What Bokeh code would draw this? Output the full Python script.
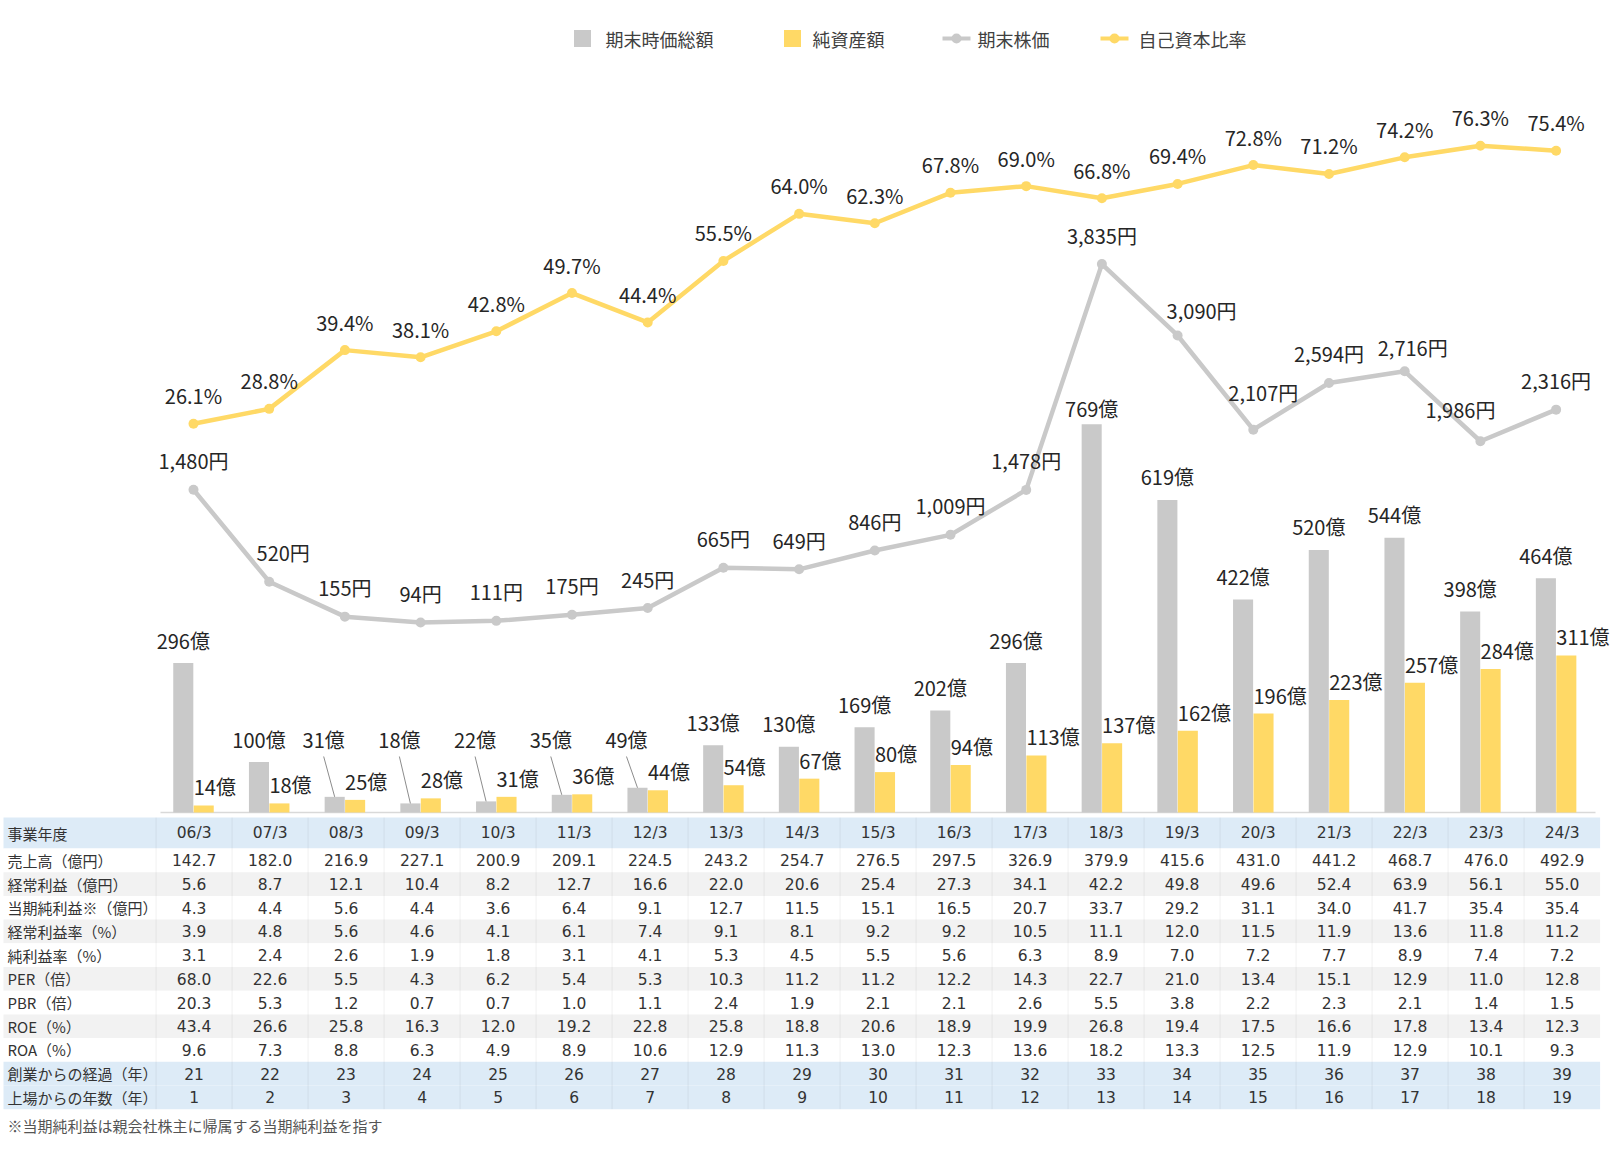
import numpy as np
from bokeh.plotting import figure
from bokeh.models import Range1d
from bokeh.core.properties import value
from bokeh.embed import file_html
from bokeh.resources import INLINE

# ---------------- data ----------------
years = ["06/3", "07/3", "08/3", "09/3", "10/3", "11/3", "12/3", "13/3", "14/3", "15/3",
         "16/3", "17/3", "18/3", "19/3", "20/3", "21/3", "22/3", "23/3", "24/3"]
market_cap = [296, 100, 31, 18, 22, 35, 49, 133, 130, 169, 202, 296, 769, 619, 422, 520, 544, 398, 464]
net_assets = [14, 18, 25, 28, 31, 36, 44, 54, 67, 80, 94, 113, 137, 162, 196, 223, 257, 284, 311]
share_price = [1480, 520, 155, 94, 111, 175, 245, 665, 649, 846, 1009, 1478, 3835, 3090, 2107, 2594,
               2716, 1986, 2316]
equity_ratio = [26.1, 28.8, 39.4, 38.1, 42.8, 49.7, 44.4, 55.5, 64.0, 62.3, 67.8, 69.0, 66.8, 69.4,
                72.8, 71.2, 74.2, 76.3, 75.4]

header_label = "事業年度"
row_labels = ["売上高（億円）", "経常利益（億円）", "当期純利益※（億円）", "経常利益率（%）", "純利益率（%）",
              "PER（倍）", "PBR（倍）", "ROE（%）", "ROA（%）", "創業からの経過（年）", "上場からの年数（年）"]
sales = [142.7, 182.0, 216.9, 227.1, 200.9, 209.1, 224.5, 243.2, 254.7, 276.5, 297.5, 326.9, 379.9,
         415.6, 431.0, 441.2, 468.7, 476.0, 492.9]
ordinary_profit = [5.6, 8.7, 12.1, 10.4, 8.2, 12.7, 16.6, 22.0, 20.6, 25.4, 27.3, 34.1, 42.2, 49.8,
                   49.6, 52.4, 63.9, 56.1, 55.0]
net_income = [4.3, 4.4, 5.6, 4.4, 3.6, 6.4, 9.1, 12.7, 11.5, 15.1, 16.5, 20.7, 33.7, 29.2, 31.1, 34.0,
              41.7, 35.4, 35.4]
ordinary_margin = [3.9, 4.8, 5.6, 4.6, 4.1, 6.1, 7.4, 9.1, 8.1, 9.2, 9.2, 10.5, 11.1, 12.0, 11.5, 11.9,
                   13.6, 11.8, 11.2]
net_margin = [3.1, 2.4, 2.6, 1.9, 1.8, 3.1, 4.1, 5.3, 4.5, 5.5, 5.6, 6.3, 8.9, 7.0, 7.2, 7.7, 8.9, 7.4, 7.2]
per = [68.0, 22.6, 5.5, 4.3, 6.2, 5.4, 5.3, 10.3, 11.2, 11.2, 12.2, 14.3, 22.7, 21.0, 13.4, 15.1, 12.9,
       11.0, 12.8]
pbr = [20.3, 5.3, 1.2, 0.7, 0.7, 1.0, 1.1, 2.4, 1.9, 2.1, 2.1, 2.6, 5.5, 3.8, 2.2, 2.3, 2.1, 1.4, 1.5]
roe = [43.4, 26.6, 25.8, 16.3, 12.0, 19.2, 22.8, 25.8, 18.8, 20.6, 18.9, 19.9, 26.8, 19.4, 17.5, 16.6,
       17.8, 13.4, 12.3]
roa = [9.6, 7.3, 8.8, 6.3, 4.9, 8.9, 10.6, 12.9, 11.3, 13.0, 12.3, 13.6, 18.2, 13.3, 12.5, 11.9, 12.9,
       10.1, 9.3]
years_since_founding = [21, 22, 23, 24, 25, 26, 27, 28, 29, 30, 31, 32, 33, 34, 35, 36, 37, 38, 39]
years_since_listing = [1, 2, 3, 4, 5, 6, 7, 8, 9, 10, 11, 12, 13, 14, 15, 16, 17, 18, 19]
footnote = "※当期純利益は親会社株主に帰属する当期純利益を指す"
legend_labels = ["期末時価総額", "純資産額", "期末株価", "自己資本比率"]

# ---------------- layout / style ----------------
W, H = 1615, 1160
COL0, COL = 193.6, 76.0            # table: x of first column centre, column pitch (px)
CH0, CHP = 193.0, 75.7             # chart: x of first category, category pitch (px)
BASE_Y, BAR_PX = 812.0, 0.505      # bar baseline (px from top), px per 億
PRICE_Y0, PRICE_PX = 631.0, 0.0958
RATIO_Y0, RATIO_PX = 567.9, 5.54
TOP, BOT = 0, H

GRAY = "#C9C9C9"
YELLOW = "#FFD966"
TXT = "#262626"
CH_FONT = value("Noto Sans CJK JP")
TB_FONT = value("DejaVu Sans, Noto Sans CJK JP")

DODGE, BW = 0.135, 0.265
LABEL_FLOOR = 100
price_dx = [0, 14, 0, 0, 0, 0, 0, 0, 0, 0, 0, 0, 0, 24, 10, 0, 8, -20, 0]
price_dy = [0, 0, 0, 0, 0, 0, 0, 0, 0, 0, 0, 0, 0, 4, -8, 0, 5, -3, 0]
cap_dy = [0] * 12 + [7] + [0] * 6


def rng(zero_px, px_per):
    return Range1d(-(BOT - zero_px) / px_per, (zero_px - TOP) / px_per)


p = figure(width=W, height=H, output_backend="svg", toolbar_location=None,
           x_range=Range1d(-COL0 / COL, (W - COL0) / COL),
           y_range=Range1d(BOT, TOP), min_border=0, outline_line_color=None,
           x_axis_location=None, y_axis_location=None)
p.grid.grid_line_color = None
p.extra_x_ranges = {"px": Range1d(0, W), "chart": Range1d(-CH0 / CHP, (W - CH0) / CHP)}
p.extra_y_ranges = {"bar": rng(BASE_Y, BAR_PX), "price": rng(PRICE_Y0, PRICE_PX),
                    "ratio": rng(RATIO_Y0, RATIO_PX)}

idx = np.arange(len(years))

# ---------------- table ----------------
HEAD_T, HEAD_B, ROW_H = 817.0, 848.0, 23.7
T_LEFT, T_RIGHT = 3.0, COL0 + COL * (len(years) - 0.5)
row_fill = ["#FFFFFF", "#F2F2F2"] * 4 + ["#FFFFFF", "#DDEBF7", "#DDEBF7"]
tops = [HEAD_T] + [HEAD_B + ROW_H * r for r in range(len(row_labels))]
bots = [HEAD_B] + [HEAD_B + ROW_H * (r + 1) for r in range(len(row_labels))]
p.quad(left=T_LEFT, right=T_RIGHT, top=tops, bottom=bots,
       fill_color=["#DDEBF7"] + row_fill, line_color=None, x_range_name="px")
p.segment(x0=idx - 0.5, x1=idx - 0.5, y0=HEAD_T, y1=bots[-1], line_color="#000000",
          line_alpha=0.06, line_width=1)

table_rows = [sales, ordinary_profit, net_income, ordinary_margin, net_margin, per, pbr, roe, roa,
              years_since_founding, years_since_listing]
centres = [(t + b) / 2 for t, b in zip(tops, bots)]
tx, ty, tt = [], [], []
for c, y in enumerate(years):
    tx.append(c); ty.append(centres[0]); tt.append(y)
for r, row in enumerate(table_rows):
    for c, v in enumerate(row):
        tx.append(c); ty.append(centres[r + 1])
        tt.append(f"{v:.1f}" if isinstance(v, float) else str(v))
p.text(x=tx, y=ty, text=tt, text_font=TB_FONT, text_font_size="15.5px", text_color="#333333",
       text_align="center", text_baseline="middle")
p.text(x=[7] * (len(row_labels) + 1), y=centres, text=[header_label] + row_labels,
       text_font=CH_FONT, text_font_size="15px", text_color="#333333", text_align="left",
       text_baseline="middle", x_range_name="px")
p.text(x=[7], y=[1125], text=[footnote], text_font=CH_FONT, text_font_size="15px",
       text_color="#555555", text_align="left", text_baseline="middle", x_range_name="px")

# ---------------- bars ----------------
p.segment(x0=[160], x1=[1595], y0=[BASE_Y], y1=[BASE_Y], line_color="#D9D9D9", line_width=1.5,
          x_range_name="px")
p.vbar(x=idx - DODGE, top=market_cap, bottom=0, width=BW, fill_color=GRAY, line_color=None,
       y_range_name="bar", x_range_name="chart")
p.vbar(x=idx + DODGE, top=net_assets, bottom=0, width=BW, fill_color=YELLOW, line_color=None,
       y_range_name="bar", x_range_name="chart")

# ---------------- lines ----------------
p.line(idx, share_price, line_color=GRAY, line_width=4.5, y_range_name="price", x_range_name="chart")
p.scatter(idx, share_price, size=10, fill_color=GRAY, line_color=None, y_range_name="price",
          x_range_name="chart")
p.line(idx, equity_ratio, line_color=YELLOW, line_width=4.5, y_range_name="ratio", x_range_name="chart")
p.scatter(idx, equity_ratio, size=10, fill_color=YELLOW, line_color=None, y_range_name="ratio",
          x_range_name="chart")

# ---------------- labels ----------------
p.text(x=idx, y=equity_ratio, text=[f"{v:.1f}%" for v in equity_ratio], y_offset=-28,
       text_font=CH_FONT, text_font_size="20px", text_color=TXT, text_align="center",
       text_baseline="middle", y_range_name="ratio", x_range_name="chart")
p.text(x=idx, y=share_price, text=[f"{v:,}円" for v in share_price],
       x_offset=price_dx, y_offset=[-29 + d for d in price_dy],
       text_font=CH_FONT, text_font_size="20px", text_color=TXT, text_align="center",
       text_baseline="middle", y_range_name="price", x_range_name="chart")

raised = [v < LABEL_FLOOR for v in market_cap]
cap_y = [max(v, LABEL_FLOOR) for v in market_cap]
cap_dx = [-11 if r else 0 for r in raised]
p.text(x=idx - DODGE, y=cap_y, text=[f"{v}億" for v in market_cap], x_offset=cap_dx,
       y_offset=[-23 + d for d in cap_dy], text_font=CH_FONT, text_font_size="20px",
       text_color=TXT, text_align="center", text_baseline="middle", y_range_name="bar",
       x_range_name="chart")
ri = [i for i, r in enumerate(raised) if r]
p.segment(x0=[i - DODGE - 11 / CHP for i in ri], y0=[LABEL_FLOOR + 5.5 / BAR_PX] * len(ri),
          x1=[i - DODGE for i in ri], y1=[market_cap[i] for i in ri], line_color="#8C8C8C",
          line_width=1, y_range_name="bar", x_range_name="chart")
p.text(x=idx + DODGE - BW / 2, y=net_assets, text=[f"{v}億" for v in net_assets], y_offset=-18.5,
       text_font=CH_FONT, text_font_size="20px", text_color=TXT, text_align="left",
       text_baseline="middle", y_range_name="bar", x_range_name="chart")

# ---------------- legend ----------------
LY = 38
p.rect(x=[582, 792], y=[LY, LY], width=17, height=17, fill_color=[GRAY, YELLOW], line_color=None,
       x_range_name="px")
p.segment(x0=[942, 1100], x1=[970, 1128], y0=[LY, LY], y1=[LY, LY], line_color=[GRAY, YELLOW],
          line_width=4, x_range_name="px")
p.scatter(x=[956, 1114], y=[LY, LY], size=10, fill_color=[GRAY, YELLOW], line_color=None,
          x_range_name="px")
p.text(x=[605, 812, 977, 1138], y=[LY] * 4, text=legend_labels, text_font=CH_FONT,
       text_font_size="18px", text_color="#404040", text_align="left", text_baseline="middle",
       x_range_name="px")

open("out.html", "w").write(file_html(p, INLINE))
